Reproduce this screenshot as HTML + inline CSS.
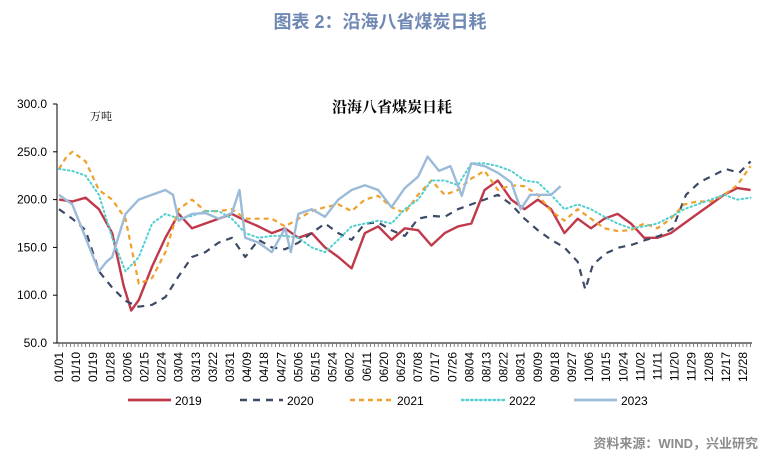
<!DOCTYPE html>
<html><head><meta charset="utf-8"><style>
body{margin:0;background:#fff;width:761px;height:460px;overflow:hidden;font-family:"Liberation Sans","Noto Sans CJK SC",sans-serif}
</style></head><body>
<svg id="c" width="761" height="460" xmlns="http://www.w3.org/2000/svg">
<text x="380" y="28" text-anchor="middle" font-size="18" font-weight="bold" fill="#7088b4" font-family="Liberation Sans, Noto Sans CJK SC, sans-serif">图表 2：沿海八省煤炭日耗</text>
<text x="392" y="112" text-anchor="middle" font-size="15" font-weight="bold" fill="#000" font-family="Liberation Serif, Noto Serif CJK SC, serif">沿海八省煤炭日耗</text>
<text x="90" y="120" font-size="11" fill="#000" font-family="Liberation Serif, Noto Serif CJK SC, serif">万吨</text>
<text x="758" y="448" text-anchor="end" font-size="13" font-weight="bold" fill="#8c8c8c" font-family="Liberation Sans, Noto Sans CJK SC, sans-serif">资料来源：WIND，兴业研究</text>
<g id="axes"></g><g id="series"></g><g id="legend"></g>
</svg>
<script>
const yTicks=[50,100,150,200,250,300];
const xTickLabels=["01/01","01/10","01/19","01/28","02/06","02/15","02/24","03/04","03/13","03/22","03/31","04/09","04/18","04/27","05/06","05/15","05/24","06/02","06/11","06/20","06/29","07/08","07/17","07/26","08/04","08/13","08/22","08/31","09/09","09/18","09/27","10/06","10/15","10/24","11/02","11/11","11/20","11/29","12/08","12/17","12/28"];
const seriesNames=["2019","2020","2021","2022","2023"];
const days2019=[0,7,14,21,28,34,38,42,49,56,63,70,77,84,91,98,105,112,119,126,133,140,147,154,161,168,175,182,189,196,203,210,217,224,231,238,245,252,259,266,273,280,287,294,301,308,315,322,329,336,343,350,357,364];
const vals2019=[200,198,202,190,165,110,84,95,130,160,185,170,175,180,185,178,172,165,170,160,165,150,140,128,165,172,158,170,168,152,165,172,175,210,220,200,190,200,190,165,180,170,180,185,175,160,160,165,175,185,195,205,212,210];
const days2020=[0,7,14,21,28,35,42,49,56,63,70,77,84,91,98,105,112,119,126,133,140,147,154,161,168,175,182,189,196,203,210,217,224,231,238,245,252,259,266,273,277,281,288,295,302,309,316,323,330,337,344,351,358,364];
const vals2020=[190,180,168,125,108,94,88,90,98,120,140,145,155,160,140,158,150,148,155,165,175,165,158,175,176,168,162,180,183,182,190,195,200,205,195,180,168,158,150,135,106,132,144,150,153,158,162,170,205,218,225,232,228,240];
const days2021=[0,4,7,14,21,28,35,42,49,56,63,70,77,84,91,98,105,112,119,126,133,140,147,154,161,168,175,182,189,196,203,210,217,224,231,238,245,252,259,266,273,280,287,294,301,308,315,322,329,336,343,350,357,364];
const vals2021=[232,245,250,240,210,200,180,112,118,145,190,200,188,188,190,180,180,180,172,180,188,192,195,188,200,204,192,186,205,220,205,210,222,230,210,215,214,205,188,178,190,180,170,167,168,175,170,180,195,198,198,205,215,235];
const days2022=[0,7,14,21,28,35,42,49,56,63,70,77,84,91,98,105,112,119,126,133,140,147,154,161,168,175,182,189,196,203,210,217,224,231,238,245,252,259,266,273,280,287,294,301,308,315,322,329,336,343,350,357,364];
const vals2022=[232,230,225,205,160,125,140,175,185,180,183,188,188,180,165,160,162,162,160,150,145,158,172,175,178,175,190,200,220,220,215,238,238,235,230,220,218,205,190,195,190,182,175,170,172,175,182,190,195,200,205,200,202];
const days2023=[0,7,14,21,25,28,35,42,49,56,60,63,70,77,84,91,95,98,105,112,119,122,126,133,140,147,154,161,168,175,182,189,194,200,206,212,217,224,231,238,243,248,252,259,264];
const vals2023=[205,195,160,125,135,140,185,200,205,210,205,178,185,186,180,186,210,160,155,145,170,145,185,190,182,200,210,215,210,192,212,224,245,230,235,204,238,235,228,218,190,205,205,205,214];

const X0=59,DX=1.9,Y0=343,PL=57,PR=752;
function xs(d){return X0+d*DX;}
function ys(v){return Y0-(v-50)*0.956;}
const NS="http://www.w3.org/2000/svg";
function mk(tag,attrs,parent,txt){const e=document.createElementNS(NS,tag);for(const k in attrs)e.setAttribute(k,attrs[k]);if(txt!=null)e.textContent=txt;parent.appendChild(e);return e;}
const ax=document.getElementById('axes');
let l=mk('line',{x1:PL,y1:ys(300),x2:PL,y2:Y0,stroke:'#000','stroke-width':1},ax);


l=mk('line',{x1:PL,y1:Y0,x2:PR,y2:Y0,stroke:'#000','stroke-width':1},ax);


yTicks.forEach(v=>{
  mk('line',{x1:PL-4,y1:ys(v),x2:PL,y2:ys(v),stroke:'#000'},ax);
  const t=mk('text',{x:PL-10,y:ys(v)+4,'text-anchor':'end','font-size':12,fill:'#000'},ax,v.toFixed(1));
  
  
});
for(let d=0;d<=364;d+=2){mk('line',{x1:xs(d),y1:Y0,x2:xs(d),y2:Y0+4,stroke:'#666','stroke-width':0.8},ax);}
xTickLabels.forEach((s,i)=>{
  const x=xs(i*9)+4;
  const t=mk('text',{x:x,y:352,'text-anchor':'end','font-size':12,fill:'#000',transform:`rotate(-90 ${x} 352)`},ax,s);
  
  
});
const styles=[
 {c:'#c0394b',w:2.4,da:''},
 {c:'#3d4a66',w:2.2,da:'7 6'},
 {c:'#eea12c',w:2.2,da:'5 4'},
 {c:'#52cfd0',w:2,da:'1.5 3'},
 {c:'#9bbbd9',w:2.4,da:''}];
const D=[[days2019,vals2019],[days2020,vals2020],[days2021,vals2021],[days2022,vals2022],[days2023,vals2023]];
const sg=document.getElementById('series');
D.forEach((p,i)=>{
  const pts=p[0].map((d,j)=>xs(d).toFixed(1)+','+ys(p[1][j]).toFixed(1)).join(' ');
  const a={points:pts,fill:'none',stroke:styles[i].c,'stroke-width':styles[i].w,'stroke-linejoin':'round'};
  if(styles[i].da)a['stroke-dasharray']=styles[i].da;
  if(i==3)a['stroke-linecap']='round';
  const e=mk('polyline',a,sg);
  
  
});
const lg=document.getElementById('legend');
const lx=[128,240,350,462,574];
seriesNames.forEach((n,i)=>{
  const g=mk('g',{},lg);
  
  
  const a={x1:lx[i],y1:400,x2:lx[i]+43,y2:400,stroke:styles[i].c,'stroke-width':styles[i].w+0.4};
  if(styles[i].da)a['stroke-dasharray']=styles[i].da;
  if(i==3)a['stroke-linecap']='round';
  mk('line',a,g);
  mk('text',{x:lx[i]+47,y:405,'font-size':12,fill:'#000'},g,n);
});
</script>
</body></html>
